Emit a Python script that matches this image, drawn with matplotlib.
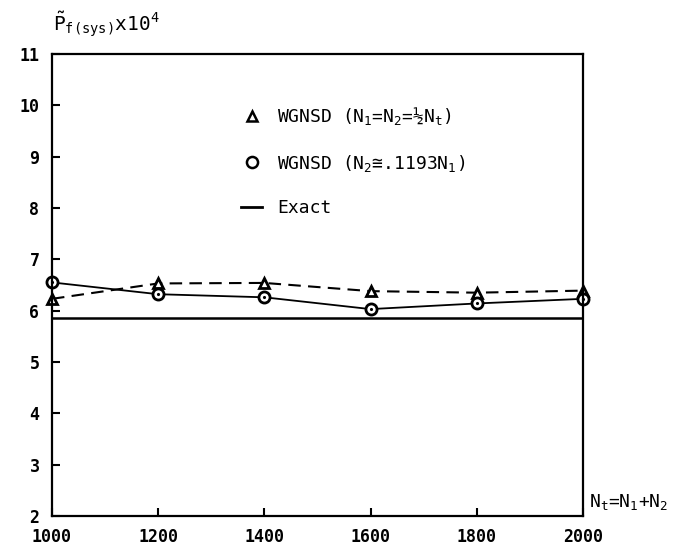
import numpy as np
import matplotlib
matplotlib.use("Agg")
import matplotlib.pyplot as plt
from matplotlib.lines import Line2D

# %%
# data
n_total = [1000, 1200, 1400, 1600, 1800, 2000]
p_equal = [6.23, 6.53, 6.54, 6.38, 6.35, 6.39]   # N1 = N2 = 1/2 Nt
p_ratio = [6.55, 6.32, 6.26, 6.03, 6.14, 6.23]   # N2 ~ .1193 N1
p_exact = 5.85
x_ticks = [1000, 1200, 1400, 1600, 1800, 2000]
y_ticks = [2, 3, 4, 5, 6, 7, 8, 9, 10, 11]

label_equal = "WGNSD (N$_1$=N$_2$=½N$_t$)"
label_ratio = "WGNSD (N$_2$≅.1193N$_1$)"
label_exact = "Exact"

# %%
plt.rcParams["font.family"] = ["DejaVu Sans Mono", "DejaVu Sans"]
plt.rcParams["mathtext.fontset"] = "custom"
plt.rcParams["mathtext.rm"] = "DejaVu Sans Mono"
plt.rcParams["mathtext.it"] = "DejaVu Sans Mono"
plt.rcParams["mathtext.tt"] = "DejaVu Sans Mono"
plt.rcParams["mathtext.default"] = "rm"

fig = plt.figure(figsize=(6.85, 5.54), dpi=100)
ax = fig.add_axes([0.0759, 0.0686, 0.775, 0.834])

ax.plot(n_total, p_equal, color="black", lw=1.5, ls=(0, (6, 3.5)),
        marker="^", ms=7, mfc="white", mec="black", mew=2, clip_on=False)
ax.plot(n_total, p_ratio, color="black", lw=1.3,
        marker="o", ms=8, mfc="white", mec="black", mew=2, clip_on=False)
ax.plot(n_total, p_ratio, ls="none", marker=".", ms=2.5, color="black",
        clip_on=False)
ax.axhline(p_exact, color="black", lw=1.8)

ax.set_xlim(1000, 2000)
ax.set_ylim(2, 11)
ax.set_xticks(x_ticks)
ax.set_yticks(y_ticks)
ax.tick_params(direction="in", length=6, width=1.5, labelsize=12)
ax.tick_params(axis="y", pad=9)
ax.tick_params(axis="x", pad=9)
for lab in ax.get_xticklabels() + ax.get_yticklabels():
    lab.set_fontweight("bold")
for s in ax.spines.values():
    s.set_linewidth(1.6)

handles = [
    Line2D([], [], ls="none", marker="^", ms=7, mfc="white", mec="black",
           mew=1.8),
    Line2D([], [], ls="none", marker="o", ms=8, mfc="white", mec="black",
           mew=1.8),
    Line2D([], [], color="black", lw=2),
]
ax.legend(handles, [label_equal, label_ratio, label_exact],
          loc="upper left", bbox_to_anchor=(0.325, 0.925), frameon=False,
          fontsize=13, handlelength=1.2, handletextpad=0.8, labelspacing=1.42)

fig.text(0.077, 0.945, r"$\tilde{\mathrm{P}}_{\mathrm{f(sys)}}$x10$^4$",
         fontsize=14, va="baseline")
fig.text(0.86, 0.085, "N$_t$=N$_1$+N$_2$", fontsize=13, va="baseline")

fig.savefig("out.png", dpi=100)
